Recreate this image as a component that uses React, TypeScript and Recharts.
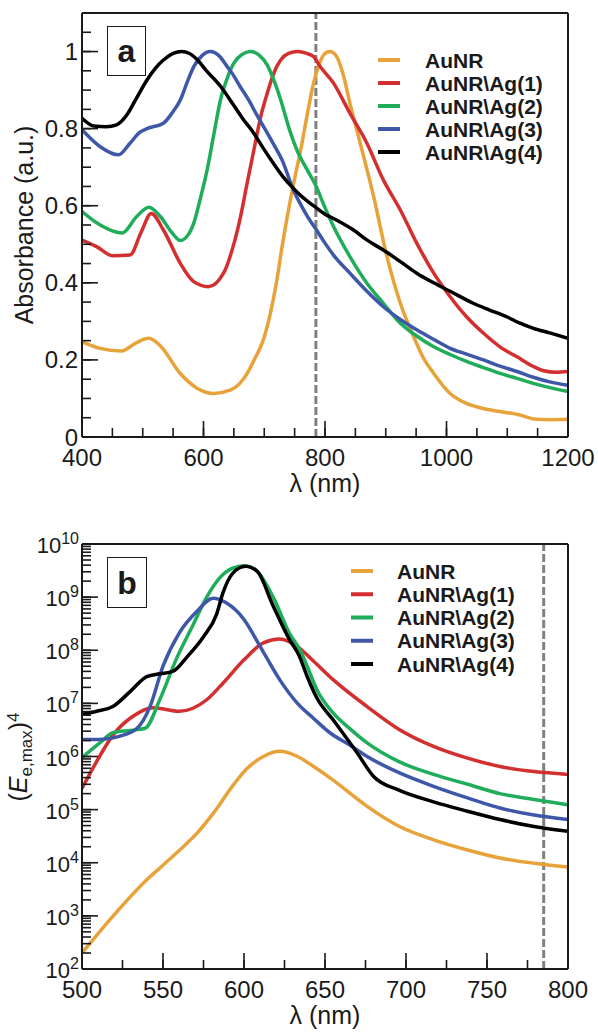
import React from 'react';
import { LineChart, Line, XAxis, YAxis, ReferenceLine } from 'recharts';

const FONT = '"Liberation Sans", Arial, Helvetica, sans-serif';
const INK = '#1a1a1a';

const seriesNames = ['AuNR', 'AuNR\\Ag(1)', 'AuNR\\Ag(2)', 'AuNR\\Ag(3)', 'AuNR\\Ag(4)'];
const seriesColors = ['#e8a23a', '#d42f2f', '#1fad5a', '#3e57a8', '#000000'];

// ---- panel a: absorbance spectra ----
const absAuNRx = [400, 430, 465, 490, 510, 530, 560, 590, 617, 645, 672, 685, 698, 710, 720, 730, 740, 750, 760, 770, 780, 790, 800, 808, 818, 830, 841, 858, 880, 902, 924, 946, 962, 979, 1006, 1033, 1060, 1088, 1121, 1143, 1170, 1200];
const absAuNRy = [0.247, 0.23, 0.223, 0.245, 0.256, 0.235, 0.168, 0.126, 0.113, 0.122, 0.165, 0.205, 0.25, 0.32, 0.4, 0.5, 0.59, 0.67, 0.745, 0.83, 0.91, 0.965, 0.995, 1.0, 0.99, 0.94, 0.866, 0.762, 0.624, 0.468, 0.347, 0.26, 0.205, 0.165, 0.113, 0.087, 0.074, 0.066, 0.057, 0.047, 0.045, 0.046];

const absAg1x = [400, 424, 451, 479, 497, 514, 534, 562, 584, 608, 633, 648, 661, 672, 683, 694, 705, 716, 727, 740, 755, 770, 781, 792, 814, 841, 869, 896, 924, 951, 979, 1006, 1033, 1061, 1088, 1116, 1143, 1160, 1180, 1200];
const absAg1y = [0.511, 0.494, 0.47, 0.472, 0.53, 0.58, 0.537, 0.45, 0.403, 0.39, 0.425, 0.49, 0.572, 0.66, 0.745, 0.83, 0.892, 0.945, 0.978, 0.995, 1.0, 0.995, 0.987, 0.961, 0.918, 0.84, 0.762, 0.667, 0.589, 0.503, 0.425, 0.364, 0.312, 0.269, 0.234, 0.208, 0.183, 0.172, 0.168, 0.17];

const absAg2x = [400, 430, 466, 490, 510, 529, 548, 562, 575, 584, 595, 606, 617, 628, 640, 650, 664, 678, 692, 705, 716, 727, 741, 755, 770, 784, 800, 814, 841, 869, 896, 924, 951, 979, 1006, 1033, 1061, 1088, 1116, 1143, 1170, 1200];
const absAg2y = [0.585, 0.55, 0.529, 0.572, 0.596, 0.572, 0.53, 0.51, 0.525, 0.555, 0.62, 0.693, 0.785, 0.875, 0.935, 0.97, 0.993, 1.0, 0.99, 0.965, 0.925, 0.875, 0.8, 0.74, 0.695, 0.655, 0.595, 0.546, 0.468, 0.399, 0.347, 0.295, 0.262, 0.234, 0.214, 0.196, 0.18, 0.165, 0.152, 0.139, 0.128, 0.118];

const absAg3x = [400, 430, 460, 479, 495, 507, 534, 548, 562, 573, 584, 598, 611, 625, 639, 647, 660, 674, 688, 702, 716, 729, 748, 759, 772, 786, 800, 814, 841, 869, 896, 924, 951, 979, 1006, 1033, 1061, 1088, 1116, 1143, 1170, 1200];
const absAg3y = [0.797, 0.753, 0.732, 0.762, 0.79, 0.8, 0.814, 0.84, 0.875, 0.92, 0.961, 0.99, 1.0, 0.99, 0.961, 0.944, 0.91, 0.875, 0.835, 0.797, 0.758, 0.72, 0.641, 0.606, 0.57, 0.537, 0.503, 0.472, 0.425, 0.378, 0.338, 0.305, 0.278, 0.253, 0.23, 0.215, 0.2, 0.184, 0.17, 0.155, 0.143, 0.134];

const absAg4x = [400, 419, 440, 457, 474, 490, 507, 520, 534, 550, 564, 577, 589, 605, 628, 650, 665, 682, 698, 715, 731, 748, 759, 781, 800, 814, 847, 870, 896, 924, 951, 979, 1006, 1044, 1070, 1099, 1120, 1143, 1170, 1200];
const absAg4y = [0.827, 0.807, 0.805, 0.81, 0.836, 0.88, 0.926, 0.955, 0.978, 0.995, 1.0, 0.995, 0.98, 0.95, 0.91, 0.86, 0.825, 0.79, 0.75, 0.71, 0.675, 0.645, 0.628, 0.6, 0.578, 0.567, 0.537, 0.51, 0.485, 0.455, 0.425, 0.4, 0.378, 0.347, 0.33, 0.312, 0.296, 0.282, 0.27, 0.256];

const absXTicks = [400, 450, 500, 550, 600, 650, 700, 750, 800, 850, 900, 950, 1000, 1050, 1100, 1150, 1200];
const absXMajor = [400, 600, 800, 1000, 1200];
const absYTicks = [0, 0.05, 0.1, 0.15, 0.2, 0.25, 0.3, 0.35, 0.4, 0.45, 0.5, 0.55, 0.6, 0.65, 0.7, 0.75, 0.8, 0.85, 0.9, 0.95, 1, 1.05, 1.1];
const absYMajor = [0, 0.2, 0.4, 0.6, 0.8, 1];

// ---- panel b: field enhancement (log scale) ----
const fieldAuNRx = [500, 519, 540, 550, 560, 571, 581, 593, 602, 612, 622, 633, 643, 655, 676, 696, 717, 738, 758, 779, 800];
const fieldAuNRy = [2.0e2, 9.8e2, 4.8e3, 9.0e3, 1.7e4, 3.6e4, 8.5e4, 2.8e5, 6.0e5, 1.0e6, 1.25e6, 1.0e6, 6.5e5, 3.6e5, 1.15e5, 4.8e4, 2.7e4, 1.74e4, 1.23e4, 9.8e3, 8.3e3];

const fieldAg1x = [500, 509, 519, 531, 544, 560, 577, 587, 600, 612, 622, 633, 643, 655, 676, 696, 717, 738, 758, 779, 800];
const fieldAg1y = [2.5e5, 8.0e5, 2.5e6, 5.6e6, 8.3e6, 7.1e6, 1.17e7, 2.4e7, 6.6e7, 1.38e8, 1.62e8, 1.17e8, 6.2e7, 2.8e7, 8.7e6, 3.2e6, 1.55e6, 9.3e5, 6.5e5, 5.2e5, 4.6e5];

const fieldAg2x = [500, 511, 519, 530, 539, 548, 558, 569, 577, 585, 593, 600, 608, 618, 628, 635, 639, 645, 655, 666, 676, 696, 717, 738, 758, 779, 800];
const fieldAg2y = [9.5e5, 1.8e6, 2.8e6, 3.1e6, 3.4e6, 1.17e7, 6.6e7, 3.2e8, 1.0e9, 2.3e9, 3.5e9, 3.9e9, 3.1e9, 1.0e9, 2.1e8, 9.5e7, 5.0e7, 1.8e7, 6.6e6, 3.2e6, 1.8e6, 7.9e5, 4.6e5, 3.0e5, 2.0e5, 1.55e5, 1.23e5];

const fieldAg3x = [500, 511, 523, 534, 542, 550, 560, 571, 581, 589, 600, 610, 622, 633, 643, 653, 665, 676, 696, 717, 738, 758, 779, 800];
const fieldAg3y = [2.1e6, 2.1e6, 2.4e6, 3.4e6, 8.7e6, 5.0e7, 2.1e8, 5.4e8, 9.5e8, 7.8e8, 3.8e8, 1.17e8, 2.8e7, 1.0e7, 5.2e6, 2.8e6, 1.66e6, 1.0e6, 4.9e5, 2.75e5, 1.66e5, 1.07e5, 7.9e4, 6.5e4];

const fieldAg4x = [500, 509, 519, 530, 540, 548, 556, 565, 575, 583, 587, 593, 601, 608, 618, 628, 634, 639, 645, 655, 670, 680, 696, 717, 738, 758, 779, 800];
const fieldAg4y = [6.2e6, 7.1e6, 8.7e6, 1.7e7, 3.2e7, 3.6e7, 4.0e7, 7.6e7, 1.8e8, 4.7e8, 1.2e9, 2.8e9, 3.8e9, 3.1e9, 6.8e8, 1.6e8, 8.0e7, 3.2e7, 1.26e7, 4.9e6, 1.15e6, 4.2e5, 2.3e5, 1.4e5, 9.3e4, 6.5e4, 4.8e4, 3.9e4];

const fieldXTicks = [500, 525, 550, 575, 600, 625, 650, 675, 700, 725, 750, 775, 800];
const fieldXMajor = [500, 550, 600, 650, 700, 750, 800];
const fieldYMajor = [1e2, 1e3, 1e4, 1e5, 1e6, 1e7, 1e8, 1e9, 1e10];
const logSteps = [1, 2, 3, 4, 5, 6, 7, 8, 9];
const fieldYTicks = fieldYMajor.slice(0, -1).flatMap((d) => logSteps.map((m) => m * d)).concat([1e10]);

const laserNm = 785;

const zip = (xs: number[], ys: number[]) => xs.map((x, i) => ({ x, y: ys[i] }));

const absSeries = [zip(absAuNRx, absAuNRy), zip(absAg1x, absAg1y), zip(absAg2x, absAg2y), zip(absAg3x, absAg3y), zip(absAg4x, absAg4y)];
const fieldSeries = [zip(fieldAuNRx, fieldAuNRy), zip(fieldAg1x, fieldAg1y), zip(fieldAg2x, fieldAg2y), zip(fieldAg3x, fieldAg3y), zip(fieldAg4x, fieldAg4y)];

const isMajor = (v: number, majors: number[]) =>
  majors.some((m) => Math.abs(m - v) <= 1e-6 * Math.max(1, Math.abs(m)));

// native tick lines point inward (negative size); the margin brings the label anchor back onto the axis
const TICK = -9;
const tickLineStyle = { stroke: INK, strokeWidth: 1.6 };
const axisLine = { stroke: INK, strokeWidth: 2 };

type Side = 'bottom' | 'left';
function makeLabel(side: Side, majors: number[], render: (x: number, y: number, v: number) => React.ReactNode) {
  return (props: any) => {
    const x = Number(props.x);
    const y = Number(props.y);
    const v = props.payload.value;
    if (!isMajor(v, majors)) return <g />;
    const ext = side === 'bottom'
      ? <line x1={x} y1={y} x2={x} y2={y - 16} stroke={INK} strokeWidth={1.6} />
      : <line x1={x} y1={y} x2={x + 16} y2={y} stroke={INK} strokeWidth={1.6} />;
    return <g>{ext}{render(x, y, v)}</g>;
  };
}

const bottomNum = (x: number, y: number, v: number) => (
  <text x={x} y={y + 29} textAnchor="middle" fontSize={24} fontFamily={FONT} fill={INK}>{v}</text>
);
const leftNum = (x: number, y: number, v: number) => (
  <text x={x - 4} y={y + 8.5} textAnchor="end" fontSize={24} fontFamily={FONT} fill={INK}>{v}</text>
);
const leftPow = (x: number, y: number, v: number) => (
  <text x={x - 3} y={y + 9} textAnchor="end" fontSize={22} fontFamily={FONT} fill={INK}>
    <tspan>10</tspan>
    <tspan dy={-9} fontSize={16}>{Math.round(Math.log10(v))}</tspan>
  </text>
);

const LegendBlock = ({ left, top, textX, rowH }: { left: number; top: number; textX: number; rowH: number }) => (
  <svg width={200} height={rowH * 5 + 6} style={{ position: 'absolute', left, top, overflow: 'visible' }}>
    {seriesNames.map((n, i) => (
      <g key={n}>
        <line x1={0} x2={22} y1={12 + i * rowH} y2={12 + i * rowH} stroke={seriesColors[i]} strokeWidth={4} />
        <text x={textX} y={12 + i * rowH} dominantBaseline="central" fontSize={21} fontWeight="bold" fontFamily={FONT} fill={INK}>
          {n}
        </text>
      </g>
    ))}
  </svg>
);

// axis titles as an overlay
const Titles = () => (
  <svg width={598} height={1033} style={{ position: 'absolute', left: 0, top: 0, pointerEvents: 'none' }}>
    <text x={325} y={492} textAnchor="middle" fontSize={25} fontFamily={FONT} fill={INK}>λ (nm)</text>
    <text x={325} y={1024} textAnchor="middle" fontSize={25} fontFamily={FONT} fill={INK}>λ (nm)</text>
    <text transform="translate(33, 225) rotate(-90)" textAnchor="middle" fontSize={25} fontFamily={FONT} fill={INK}>
      Absorbance (a.u.)
    </text>
    <text transform="translate(27, 757) rotate(-90)" textAnchor="middle" fontSize={25} fontFamily={FONT} fill={INK}>
      <tspan>(</tspan>
      <tspan fontStyle="italic">E</tspan>
      <tspan fontSize={17} dy={5}>e,max</tspan>
      <tspan dy={-5}>)</tspan>
      <tspan fontSize={17} dy={-8}>4</tspan>
    </text>
  </svg>
);

function AbsorbanceChart() {
  return (
    <LineChart width={598} height={500} margin={{ top: 12, right: 29, bottom: 3, left: 12 }}>
      <XAxis dataKey="x" type="number" domain={[400, 1200]} allowDataOverflow ticks={absXTicks} interval={0}
        tickSize={TICK} tickMargin={-TICK} tickLine={tickLineStyle} axisLine={axisLine} height={60}
        tick={makeLabel('bottom', absXMajor, bottomNum)} />
      <XAxis xAxisId="top" orientation="top" dataKey="x" type="number" domain={[400, 1200]} allowDataOverflow
        ticks={absXTicks} interval={0} tickSize={TICK} tickLine={tickLineStyle} axisLine={axisLine} height={1}
        tick={false} />
      <YAxis type="number" domain={[0, 1.1]} allowDataOverflow ticks={absYTicks} interval={0}
        tickSize={TICK} tickMargin={-TICK} tickLine={tickLineStyle} axisLine={axisLine} width={70}
        tick={makeLabel('left', absYMajor, leftNum)} />
      <YAxis yAxisId="right" orientation="right" type="number" domain={[0, 1.1]} allowDataOverflow ticks={absYTicks}
        interval={0} tickSize={TICK} tickLine={tickLineStyle} axisLine={axisLine} width={1} tick={false} />
      <ReferenceLine x={laserNm} stroke="#808080" strokeWidth={3} strokeDasharray="8 3" />
      {absSeries.map((d, i) => (
        <Line key={seriesNames[i]} name={seriesNames[i]} data={d} dataKey="y" type="monotone" stroke={seriesColors[i]}
          strokeWidth={3.5} dot={false} activeDot={false} isAnimationActive={false} />
      ))}
    </LineChart>
  );
}

function FieldChart() {
  return (
    <LineChart width={598} height={533} margin={{ top: 43, right: 29, bottom: 4, left: 12 }}>
      <XAxis dataKey="x" type="number" domain={[500, 800]} allowDataOverflow ticks={fieldXTicks} interval={0}
        tickSize={TICK} tickMargin={-TICK} tickLine={tickLineStyle} axisLine={axisLine} height={60}
        tick={makeLabel('bottom', fieldXMajor, bottomNum)} />
      <XAxis xAxisId="top" orientation="top" dataKey="x" type="number" domain={[500, 800]} allowDataOverflow
        ticks={fieldXTicks} interval={0} tickSize={TICK} tickLine={tickLineStyle} axisLine={axisLine} height={1}
        tick={false} />
      <YAxis type="number" scale="log" domain={[1e2, 1e10]} allowDataOverflow ticks={fieldYTicks} interval={0}
        tickSize={TICK} tickMargin={-TICK} tickLine={tickLineStyle} axisLine={axisLine} width={70}
        tick={makeLabel('left', fieldYMajor, leftPow)} />
      <YAxis yAxisId="right" orientation="right" type="number" scale="log" domain={[1e2, 1e10]} allowDataOverflow
        ticks={fieldYTicks} interval={0} tickSize={TICK} tickLine={tickLineStyle} axisLine={axisLine} width={1}
        tick={false} />
      <ReferenceLine x={laserNm} stroke="#808080" strokeWidth={3} strokeDasharray="8 3" />
      {fieldSeries.map((d, i) => (
        <Line key={seriesNames[i]} name={seriesNames[i]} data={d} dataKey="y" type="monotone" stroke={seriesColors[i]}
          strokeWidth={3.5} dot={false} activeDot={false} isAnimationActive={false} />
      ))}
    </LineChart>
  );
}

const PanelTag = ({ letter, left, top, w, h }: { letter: string; left: number; top: number; w: number; h: number }) => (
  <div style={{
    position: 'absolute', left, top, width: w, height: h, boxSizing: 'border-box',
    border: `1.5px solid ${INK}`, background: '#fff', display: 'flex', alignItems: 'center',
    justifyContent: 'center', fontFamily: FONT, fontWeight: 'bold', fontSize: 32, color: INK, lineHeight: 1,
  }}>
    {letter}
  </div>
);

export default function App() {
  return (
    <div style={{ position: 'absolute', left: 0, top: 0, width: 598, height: 1033, background: '#fff' }}>
      <div style={{ position: 'absolute', left: 0, top: 0 }}>
        <AbsorbanceChart />
      </div>
      <div style={{ position: 'absolute', left: 0, top: 500 }}>
        <FieldChart />
      </div>
      <Titles />
      <LegendBlock left={378} top={48} textX={47} rowH={23} />
      <LegendBlock left={351} top={559} textX={46} rowH={23.25} />
      <PanelTag letter="a" left={107} top={26} w={39} h={50} />
      <PanelTag letter="b" left={107} top={557} w={40} h={51} />
    </div>
  );
}
